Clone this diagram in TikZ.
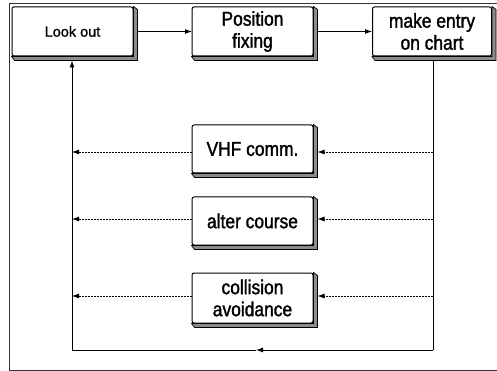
\documentclass[tikz,border=0pt]{standalone}
\usepackage{fontspec}
\setmainfont[FakeBold=1.2]{Liberation Sans}
\newfontfamily\boxfont[FakeStretch=0.87,FakeBold=1.5]{Liberation Sans}
\usetikzlibrary{arrows.meta,calc}
\newcommand\boxshade[1]{%
  \filldraw[shadestyle] (#1.south west) -- ++(3,4) -- ($(#1.south east)+(4,4)$)
    -- ($(#1.north east)+(4,3)$) -- (#1.north east) -- (#1.south east) -- cycle;}
\begin{document}
\begin{tikzpicture}[x=1pt,y=-1pt,
  flowbox/.style={draw, line width=1pt, rounded corners=2pt, fill=white,
    minimum width=121pt, minimum height=49pt, inner sep=0pt, align=center,
    font=\boxfont\fontsize{20}{22}\selectfont},
  shadestyle/.style={fill=black!45, draw=black, line width=0.7pt},
  conn/.style={line width=0.9pt},
  arr/.style={conn, -{Latex[length=7pt,width=5pt]}},
  dotarr/.style={arr, line width=0.8pt, dash pattern=on 1.6pt off 1.4pt},
  frame/.style={line width=1pt, draw=black!80}
]
\useasboundingbox (0,0) rectangle (497,371);
% outer frame
\coordinate (f1) at (9,370);
\coordinate (f2) at (9,4);
\coordinate (f3) at (498,4);
\coordinate (f4) at (498,370);
\draw[frame] (f4) -- (f1) -- (f2) -- (f3);

% boxes
\node[flowbox, font=\rmfamily\fontsize{14.5}{17}\selectfont] (lo) at (72.5,31.5) {Look out};
\node[flowbox] (pf) at (252.5,31.5) {Position\\fixing};
\node[flowbox, minimum width=119pt] (me) at (432,31.5) {make entry\\on chart};
\node[flowbox, minimum height=48pt] (vhf) at (252.5,149) {VHF comm.};
\node[flowbox, minimum height=48pt] (ac) at (252.5,221) {alter course};
\node[flowbox, minimum height=50pt] (ca) at (252.5,298) {collision\\avoidance};
\boxshade{lo}\boxshade{pf}\boxshade{me}\boxshade{vhf}\boxshade{ac}\boxshade{ca}

% top row arrows
\draw[arr, shorten >=-0.5pt] ($(lo.east)+(4,0)$) -- (pf.west);
\draw[arr] ($(pf.east)+(4,0)$) -- (me.west);

% feedback loop
\coordinate (br) at (433,350);
\coordinate (bm) at (256,350);
\coordinate (bl) at (72,350);
\coordinate (r1) at (433,152);
\coordinate (r2) at (433,219);
\coordinate (r3) at (433,296);
\coordinate (l1) at (72,152);
\coordinate (l2) at (72,219);
\coordinate (l3) at (72,296);
\draw[conn] ($(me.south)+(1,4)$) -- (br);
\draw[arr] (br) -- (bm);
\draw[conn] (bm) -- (bl);
\draw[arr, shorten >=4pt] (bl) -- (bl |- lo.south);

% dotted connections
\draw[dotarr, shorten >=4pt] (r1) -- (r1 -| vhf.east);
\draw[dotarr, shorten >=4pt] (r2) -- (r2 -| ac.east);
\draw[dotarr, shorten >=4pt] (r3) -- (r3 -| ca.east);
\draw[dotarr] (l1 -| vhf.west) -- (l1);
\draw[dotarr] (l2 -| ac.west) -- (l2);
\draw[dotarr] (l3 -| ca.west) -- (l3);
\end{tikzpicture}
\end{document}
